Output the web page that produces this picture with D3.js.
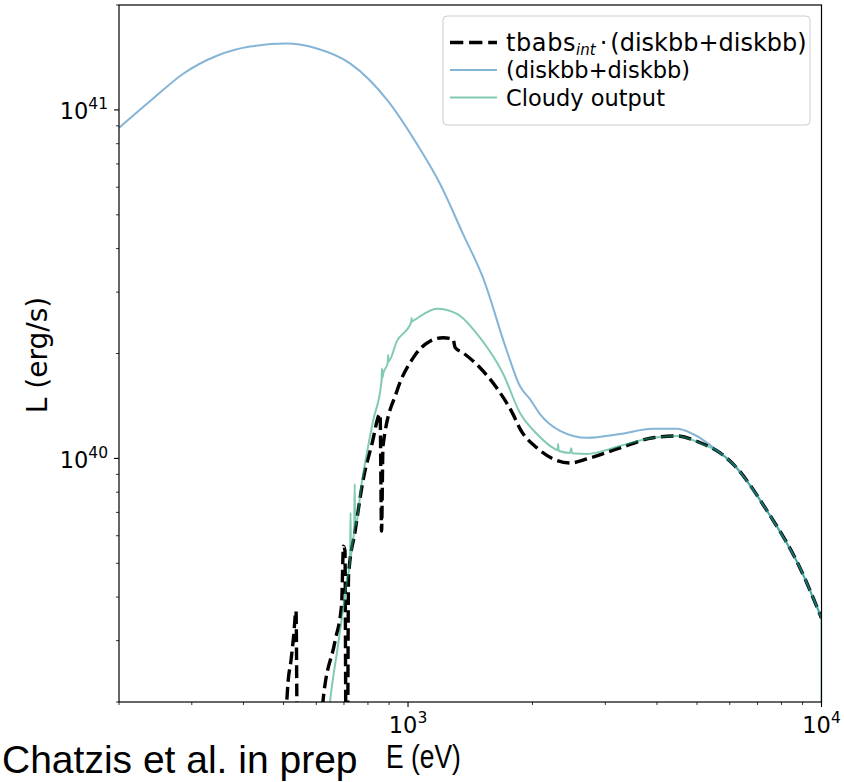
<!DOCTYPE html>
<html>
<head>
<meta charset="utf-8">
<script src="https://cdn.jsdelivr.net/npm/d3@7/dist/d3.min.js"></script>
<style>
  body { margin: 0; background: #fff; }
  svg { display: block; }
</style>
</head>
<body>
<div id="chart"></div>
<script>
// (diskbb+diskbb), unabsorbed model
const blueE = [200, 238, 286, 345, 415, 509, 602, 724, 895, 1051, 1195, 1358, 1518, 1735, 1866, 1972, 2085, 2332, 2711, 3258, 3911, 4474, 4889];
const blueL = [8.88e40, 1.06e41, 1.27e41, 1.43e41, 1.52e41, 1.55e41, 1.50e41, 1.36e41, 1.06e41, 7.98e40, 6.14e40, 4.41e40, 3.30e40, 2.03e40, 1.61e40, 1.48e40, 1.34e40, 1.20e40, 1.146e40, 1.175e40, 1.216e40, 1.216e40, 1.175e40];

// Cloudy output (with small noise spikes)
const cloudyE = [641, 647, 677, 712, 724, 726, 728, 732, 741, 743, 745, 774, 823, 863, 865, 867, 871, 893, 895, 897, 940, 1018, 1020, 1022, 1028, 1175, 1314, 1493, 1698, 1866, 2051, 2244, 2300, 2307, 2314, 2466, 2480, 2495, 2711, 3258, 3911, 4474, 5080];
const cloudyL = [1.77e39, 1.98e39, 2.90e39, 4.46e39, 5.08e39, 6.98e39, 5.25e39, 5.61e39, 6.19e39, 8.45e39, 6.40e39, 8.61e39, 1.28e40, 1.67e40, 1.81e40, 1.70e40, 1.75e40, 1.88e40, 1.98e40, 1.90e40, 2.17e40, 2.46e40, 2.53e40, 2.47e40, 2.48e40, 2.69e40, 2.60e40, 2.22e40, 1.75e40, 1.35e40, 1.175e40, 1.072e40, 1.057e40, 1.10e40, 1.052e40, 1.037e40, 1.07e40, 1.035e40, 1.03e40, 1.086e40, 1.146e40, 1.16e40, 1.107e40];

// tbabs_int * (diskbb+diskbb), with O, Fe L and Ne edges
const absE = [504, 513, 521, 529, 536, 540, 620, 622, 666, 691, 698, 704, 708, 714, 718, 745, 778, 818, 856, 863, 870, 940, 1028, 1130, 1215, 1285, 1300, 1358, 1493, 1641, 1794, 1866, 2051, 2244, 2466, 2711, 3258, 3911, 4474, 5080];
const absL = [1.6e39, 2.30e39, 2.62e39, 3.10e39, 3.65e39, 1.5e39, 1.5e39, 1.98e39, 2.99e39, 3.82e39, 5.6e39, 5.43e39, 1.5e39, 1.5e39, 4.60e39, 6.19e39, 8.61e39, 1.10e40, 1.34e40, 6.19e39, 1.086e40, 1.56e40, 1.94e40, 2.17e40, 2.22e40, 2.20e40, 2.08e40, 2.01e40, 1.82e40, 1.59e40, 1.34e40, 1.216e40, 1.072e40, 9.97e39, 9.7e39, 9.97e39, 1.072e40, 1.146e40, 1.16e40, 1.11e40];

// high-energy tail where all three curves coincide
const tailE = [5685, 6110, 7387, 8872, 10000];
const tailL = [1.037e40, 9.64e39, 7.07e39, 4.85e39, 3.48e39];

const xDomain = [200, 1e4];
const yDomain = [2e39, 2e41];
const xMajor = [1e3, 1e4];
const yMajor = [1e40, 1e41];

const legendItems = [
  { key: "abs", label: "tbabs", sub: "int", rest: "(diskbb+diskbb)" },
  { key: "blue", label: "(diskbb+diskbb)" },
  { key: "cloudy", label: "Cloudy output" }
];

const W = 844, H = 782;
const plot = { left: 119, right: 821.5, top: 5, bottom: 702 };

const svg = d3.select("#chart").append("svg")
  .attr("width", W)
  .attr("height", H);

const x = d3.scaleLog().domain(xDomain).range([plot.left, plot.right]);
const y = d3.scaleLog().domain(yDomain).range([plot.bottom, plot.top]);

svg.append("clipPath").attr("id", "clip")
  .append("rect")
  .attr("x", plot.left).attr("y", plot.top)
  .attr("width", plot.right - plot.left)
  .attr("height", plot.bottom - plot.top);

const zip = (es, ls) => es.map((e, i) => [e, ls[i]]);
const tail = zip(tailE, tailL);

const line = d3.line()
  .x(d => x(d[0]))
  .y(d => y(d[1]))
  .curve(d3.curveMonotoneX);

const lines = svg.append("g").attr("clip-path", "url(#clip)");

// absorbed model (dashed)
lines.append("path")
  .attr("d", line(zip(absE, absL).concat(tail)))
  .attr("fill", "none")
  .attr("stroke", "#000")
  .attr("stroke-width", 3.4)
  .attr("stroke-dasharray", "12.6,5.4");

// unabsorbed model
lines.append("path")
  .attr("d", line(zip(blueE, blueL).concat(tail)))
  .attr("fill", "none")
  .attr("stroke", "#1f77b4")
  .attr("stroke-opacity", 0.55)
  .attr("stroke-width", 2);

// cloudy output
const cloudyPts = zip(cloudyE, cloudyL).concat(tail);
lines.append("path")
  .attr("d", line(cloudyPts))
  .attr("fill", "none")
  .attr("stroke", "#1b9e77")
  .attr("stroke-opacity", 0.55)
  .attr("stroke-width", 2);
// final drop of the cloudy spectrum at the grid edge
const last = cloudyPts[cloudyPts.length - 1];
lines.append("path")
  .attr("d", d3.line().x(d => x(d[0])).y(d => y(d[1]))([last, [last[0], 1e39]]))
  .attr("fill", "none")
  .attr("stroke", "#1b9e77")
  .attr("stroke-opacity", 0.55)
  .attr("stroke-width", 2);

// ticks
const isMajor = v => Math.abs(Math.log10(v) - Math.round(Math.log10(v))) < 1e-6;
const tickFont = "DejaVu Sans, sans-serif";

const xTicks = svg.append("g");
x.ticks().forEach(v => {
  const major = isMajor(v);
  xTicks.append("line")
    .attr("x1", x(v)).attr("x2", x(v))
    .attr("y1", plot.bottom).attr("y2", plot.bottom + (major ? 5 : 3))
    .attr("stroke", "#000").attr("stroke-width", major ? 1.1 : 0.8);
});
xMajor.forEach(v => {
  const t = xTicks.append("text")
    .attr("x", x(v)).attr("y", 733)
    .attr("text-anchor", "middle")
    .attr("font-family", tickFont)
    .attr("font-size", 22.5)
    .attr("fill", "#000");
  t.append("tspan").text("10");
  t.append("tspan").attr("dy", -10).attr("font-size", 15.5).text(Math.round(Math.log10(v)));
});

const yTicks = svg.append("g");
y.ticks().forEach(v => {
  const major = isMajor(v);
  yTicks.append("line")
    .attr("x1", plot.left - (major ? 5 : 3)).attr("x2", plot.left)
    .attr("y1", y(v)).attr("y2", y(v))
    .attr("stroke", "#000").attr("stroke-width", major ? 1.1 : 0.8);
});
yMajor.forEach(v => {
  const t = yTicks.append("text")
    .attr("x", 108).attr("y", y(v) + 9.5)
    .attr("text-anchor", "end")
    .attr("font-family", tickFont)
    .attr("font-size", 22.5)
    .attr("fill", "#000");
  t.append("tspan").text("10");
  t.append("tspan").attr("dy", -10).attr("font-size", 15.5).text(Math.round(Math.log10(v)));
});

// frame
svg.append("rect")
  .attr("x", plot.left).attr("y", plot.top)
  .attr("width", plot.right - plot.left)
  .attr("height", plot.bottom - plot.top)
  .attr("fill", "none")
  .attr("stroke", "#000")
  .attr("stroke-width", 1.2);

// axis labels
svg.append("text")
  .attr("transform", "translate(47,355) rotate(-90)")
  .attr("text-anchor", "middle")
  .attr("font-family", tickFont)
  .attr("font-size", 28)
  .text("L (erg/s)");

svg.append("text")
  .attr("transform", "translate(386,768) scale(0.8,1)")
  .attr("font-family", "Liberation Sans, Arial, sans-serif")
  .attr("font-size", 33)
  .text("E (eV)");

svg.append("text")
  .attr("transform", "translate(2,773)")
  .attr("font-family", "Liberation Sans, Arial, sans-serif")
  .attr("font-size", 39)
  .text("Chatzis et al. in prep");

// legend
const lg = svg.append("g");
lg.append("rect")
  .attr("x", 443).attr("y", 16)
  .attr("width", 367).attr("height", 109)
  .attr("rx", 4)
  .attr("fill", "#fff").attr("fill-opacity", 0.8)
  .attr("stroke", "#cccccc").attr("stroke-width", 1);

const rowY = [42.5, 70, 97.5];
legendItems.forEach((item, i) => {
  const ly = rowY[i];
  const sample = lg.append("line")
    .attr("x1", 450).attr("x2", 497)
    .attr("y1", ly).attr("y2", ly)
    .attr("fill", "none");
  if (item.key === "abs") {
    sample.attr("stroke", "#000").attr("stroke-width", 3.4).attr("stroke-dasharray", "13.3,5.8");
  } else {
    sample.attr("stroke", item.key === "blue" ? "#1f77b4" : "#1b9e77")
      .attr("stroke-opacity", 0.55).attr("stroke-width", 2);
  }
  const t = lg.append("text")
    .attr("x", 506).attr("y", ly + 8)
    .attr("font-family", tickFont)
    .attr("font-size", 22.5)
    .attr("fill", "#000");
  if (item.sub) {
    // mathtext-like entry: tbabs_int · (diskbb+diskbb)
    t.attr("font-size", 24);
    t.append("tspan").attr("letter-spacing", 0.6).text(item.label);
    t.append("tspan").attr("dy", 4).attr("font-size", 15).attr("font-style", "italic").text(item.sub);
    t.append("tspan").attr("dy", -4).attr("dx", 4).text("\u00b7");
    t.append("tspan").attr("dx", 3).text(item.rest);
  } else {
    t.text(item.label);
  }
});
</script>
</body>
</html>
